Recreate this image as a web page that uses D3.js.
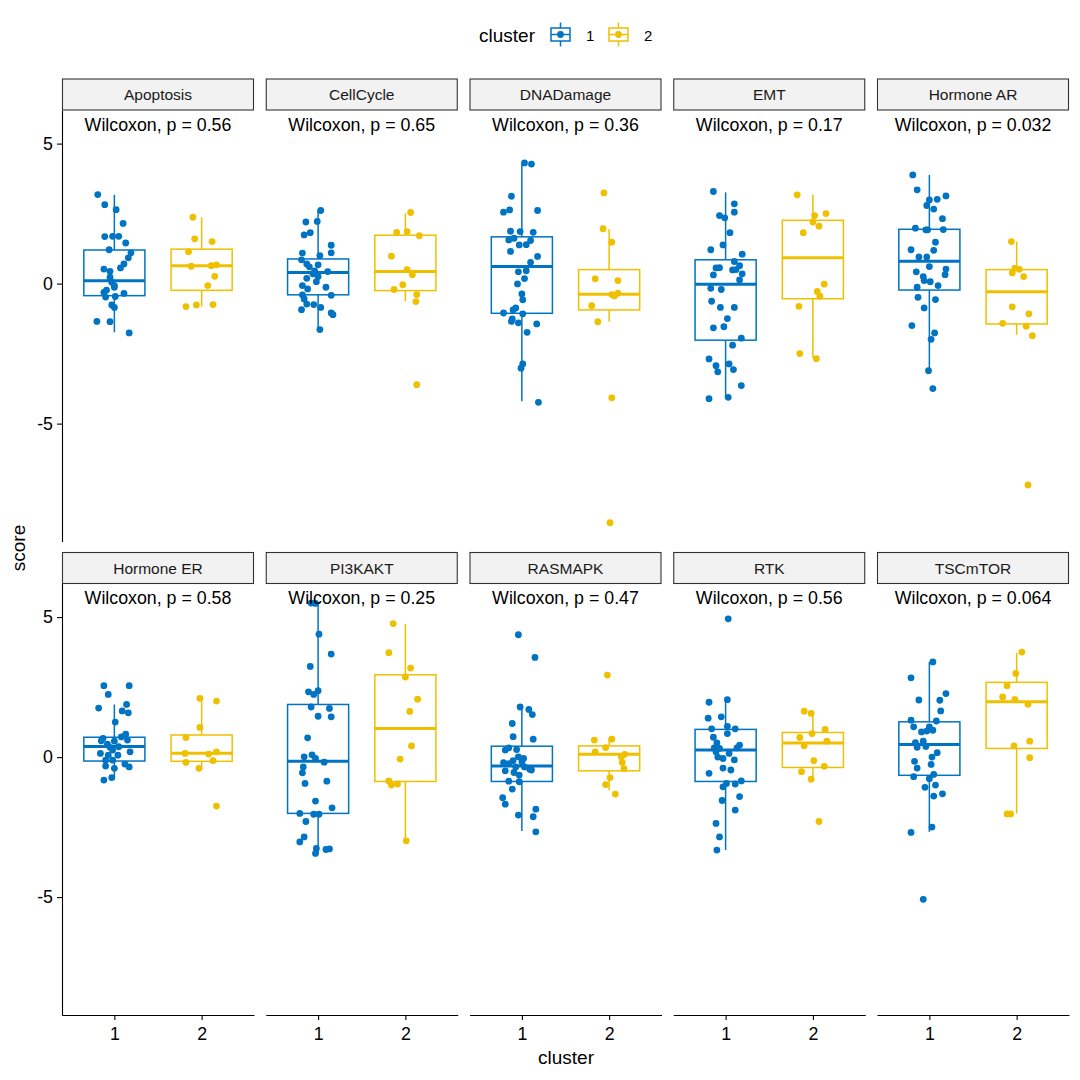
<!DOCTYPE html>
<html><head><meta charset="utf-8">
<script src="https://cdn.jsdelivr.net/npm/d3@7"></script>
<style>body{margin:0;background:#fff}svg{display:block;font-family:"Liberation Sans",Arial,sans-serif}</style>
</head><body><svg id="chart" width="1080" height="1080"></svg>
<script>
// ---------- data ----------
const panels = ["Apoptosis","CellCycle","DNADamage","EMT","Hormone AR","Hormone ER","PI3KAKT","RASMAPK","RTK","TSCmTOR"];
const pValues = ["0.56","0.65","0.36","0.17","0.032","0.58","0.25","0.47","0.56","0.064"];
const clusters = ["1","2"];
const yTicks = [-5,0,5];
// box stats per panel: [lowerWhisker, q1, median, q3, upperWhisker]
const box1 = [
  [-1.74,-0.43,0.10,1.20,3.17],[-1.68,-0.40,0.40,0.88,2.63],[-4.20,-1.06,0.61,1.67,4.27],[-4.06,-2.02,-0.02,0.85,3.26],[-3.11,-0.23,0.80,1.94,3.88],
  [-0.80,-0.14,0.38,0.71,1.88],[-3.44,-2.01,-0.15,1.88,5.52],[-2.64,-0.87,-0.32,0.39,1.80],[-3.32,-0.87,0.25,0.99,2.10],[-2.67,-0.65,0.45,1.26,3.40]];
const box2 = [
  [-0.82,-0.24,0.64,1.23,2.37],[-0.63,-0.25,0.43,1.73,2.51],[-1.35,-0.94,-0.38,0.50,1.94],[-2.65,-0.54,0.92,2.26,3.17],[-1.83,-1.44,-0.29,0.50,1.50],
  [-0.40,-0.15,0.14,0.79,2.10],[-2.99,-0.87,1.02,2.94,4.75],[-1.18,-0.49,0.10,0.40,0.67],[-0.79,-0.37,0.50,0.88,1.58],[-2.01,0.31,1.98,2.67,3.73]];
// points: [jitter offset (category units), score]
const apoptosis1 = [[-0.19,3.18],[-0.11,2.82],[0.02,2.64],[0.10,2.15],[-0.11,1.68],[-0.02,1.69],[0.05,1.69],[0.13,1.45],[-0.06,1.21],[0.19,1.10],[0.16,0.92],[0.11,0.70],[0.07,0.56],[-0.12,0.52],[-0.05,0.44],[-0.05,0.23],[-0.03,0.05],[0,-0.07],[-0.09,-0.23],[0,-0.13],[-0.12,-0.31],[0.11,-0.35],[0.01,-0.46],[-0.10,-0.48],[-0.03,-0.76],[0,-0.85],[-0.20,-1.35],[-0.05,-1.36],[0.17,-1.76]];
const apoptosis2 = [[-0.10,2.37],[-0.08,1.60],[0.12,1.50],[-0.15,1.14],[-0.12,0.62],[0.11,0.64],[0.17,0.67],[0.15,0.26],[0.07,-0.07],[-0.18,-0.82],[-0.06,-0.76],[0.13,-0.75]];
const cellcycle1 = [[0.03,2.61],[-0.14,2.20],[-0.01,2.22],[-0.16,1.74],[-0.09,1.82],[0.15,1.37],[0.15,1.10],[-0.18,1.09],[0.02,1.00],[-0.19,0.85],[-0.13,0.70],[-0.10,0.60],[0,0.67],[-0.04,0.45],[0.11,0.43],[-0.06,0.35],[0,0.25],[-0.13,0.19],[-0.02,0.07],[-0.18,-0.07],[-0.12,-0.19],[0.09,-0.13],[-0.18,-0.40],[0.15,-0.42],[-0.16,-0.55],[-0.13,-0.73],[-0.05,-0.75],[0.03,-0.85],[-0.19,-0.93],[0.15,-1.05],[0.17,-1.11],[0.02,-1.64]];
const cellcycle2 = [[0.06,2.54],[-0.10,1.83],[0.02,1.86],[0.16,1.71],[-0.16,0.98],[0.02,0.50],[0.08,0.32],[-0.03,-0.04],[-0.13,-0.21],[0.13,-0.39],[0.12,-0.64],[0.13,-3.61]];
const dnadamage1 = [[0.03,4.31],[0.11,4.27],[-0.12,3.12],[-0.21,2.55],[-0.14,2.63],[0.18,2.61],[-0.13,1.87],[-0.02,1.86],[0.13,1.83],[-0.15,1.56],[-0.09,1.62],[-0.03,1.38],[0.05,1.39],[0.10,1.54],[-0.13,1.15],[0.18,0.97],[0.10,0.76],[0.05,0.46],[-0.04,0.42],[0.03,0.18],[-0.05,-0.01],[0,-0.37],[0.01,-0.58],[-0.07,-0.87],[-0.10,-0.94],[-0.21,-1.05],[0.01,-1.08],[-0.11,-1.26],[-0.12,-1.35],[-0.04,-1.40],[0.17,-1.44],[0.06,-1.74],[0.01,-2.87],[-0.01,-3.02],[0.19,-4.24]];
const dnadamage2 = [[-0.06,3.24],[-0.07,1.96],[0.03,1.48],[-0.16,0.17],[0.10,0.11],[0.10,-0.34],[0.06,-0.44],[0.03,-0.39],[-0.20,-0.79],[-0.13,-1.36],[0.03,-4.08],[0.01,-8.54]];
const emt1 = [[-0.14,3.29],[0.10,2.85],[0.10,2.55],[-0.07,2.43],[-0.01,2.35],[0.05,1.82],[-0.03,1.38],[-0.17,1.21],[0.19,1.05],[0.10,0.79],[0.16,0.64],[-0.11,0.56],[-0.07,0.57],[0.08,0.49],[0.12,0.50],[0.19,0.35],[-0.14,0.31],[0.16,0.13],[-0.17,-0.17],[-0.05,-0.21],[-0.16,-0.63],[-0.06,-0.85],[0.10,-0.85],[0.02,-1.25],[-0.14,-1.58],[-0.02,-1.54],[0.18,-1.95],[0.08,-2.20],[-0.19,-2.69],[-0.11,-2.93],[0.04,-2.87],[-0.09,-3.15],[0.09,-3.07],[0.18,-3.64],[-0.19,-4.11],[0.03,-4.06]];
const emt2 = [[-0.18,3.17],[0.15,2.50],[0.02,2.43],[0,2.20],[0.07,2.05],[-0.11,1.82],[0.13,-0.02],[0.05,-0.28],[0.08,-0.45],[-0.16,-0.81],[-0.15,-2.50],[0.04,-2.68]];
const hormoneAR1 = [[-0.19,3.88],[-0.14,3.35],[0.19,3.13],[0.09,3.01],[0,2.99],[-0.03,2.79],[0.05,2.66],[0.15,2.32],[-0.16,1.98],[-0.04,1.92],[-0.02,1.92],[0.16,1.93],[0.07,1.48],[-0.21,1.21],[0.05,1.19],[-0.12,0.95],[-0.03,0.95],[0,0.61],[0.19,0.52],[-0.15,0.42],[0.18,0.32],[-0.07,0.25],[-0.06,0.11],[0.01,0.07],[0.10,-0.07],[-0.14,-0.13],[-0.13,-0.49],[0.07,-0.57],[-0.06,-0.87],[-0.20,-1.50],[0.06,-1.76],[0.02,-1.99],[-0.01,-3.11],[0.04,-3.75]];
const hormoneAR2 = [[-0.06,1.50],[-0.02,0.55],[0.03,0.51],[-0.05,0.38],[0.08,0.25],[-0.05,-0.83],[0.14,-1.08],[-0.16,-1.42],[0.11,-1.52],[0.18,-1.86],[0.13,-7.19]];
const hormoneER1 = [[-0.12,2.55],[0.17,2.55],[-0.07,2.24],[-0.18,1.75],[0.14,1.88],[0.09,1.65],[0.16,1.58],[0.01,1.25],[-0.13,0.67],[0.13,0.82],[0.15,0.61],[0,0.57],[-0.08,0.46],[0.05,0.37],[-0.02,0.25],[-0.16,0.13],[0.18,0.19],[-0.07,0.07],[0.04,0.07],[-0.10,-0.11],[-0.02,-0.11],[0.12,-0.25],[0.17,-0.35],[-0.10,-0.32],[0,-0.40],[-0.03,-0.73],[-0.12,-0.82],[-0.05,0.35],[-0.15,0.58],[0.08,0.72]];
const hormoneER2 = [[-0.02,2.10],[0.17,2.00],[-0.02,1.06],[-0.18,0.70],[-0.19,0.13],[0.08,0.11],[0.17,0.19],[-0.18,-0.19],[-0.03,-0.40],[0.13,-0.13],[0.17,-1.75]];
const pi3kakt1 = [[-0.08,5.50],[-0.03,5.49],[0.01,4.39],[0.15,3.68],[-0.09,3.24],[-0.11,2.33],[-0.05,2.24],[0,2.37],[-0.08,1.79],[0.13,1.74],[0,1.46],[0.15,1.44],[-0.12,0.69],[-0.16,0.01],[-0.07,0.08],[-0.03,-0.05],[0.07,-0.18],[-0.17,-0.35],[-0.18,-0.56],[-0.15,-0.94],[0.10,-0.86],[-0.03,-1.57],[0.16,-1.81],[-0.21,-2.01],[-0.05,-2.04],[0.01,-2.04],[-0.14,-2.30],[-0.16,-2.85],[-0.21,-3.03],[-0.02,-3.26],[-0.03,-3.44],[0.09,-3.30],[0.13,-3.28]];
const pi3kakt2 = [[-0.14,4.77],[-0.19,3.73],[0.06,3.18],[0,2.86],[0.14,2.07],[0.05,1.63],[0.07,0.40],[-0.06,-0.07],[-0.19,-0.85],[-0.16,-1.00],[-0.09,-0.96],[0.01,-2.99]];
const rasmapk1 = [[-0.04,4.37],[0.15,3.56],[-0.02,1.79],[0.08,1.70],[0.12,1.52],[-0.11,1.20],[-0.10,0.73],[0.13,0.64],[-0.19,0.25],[-0.15,0.33],[-0.06,0.27],[-0.04,0.01],[-0.21,-0.20],[-0.10,-0.13],[0,-0.17],[0.03,-0.35],[-0.19,-0.49],[-0.09,-0.55],[0.11,-0.46],[-0.03,-0.64],[-0.15,-0.86],[-0.03,-0.88],[-0.11,-1.14],[-0.22,-1.45],[-0.19,-1.68],[0.16,-1.86],[-0.04,-2.07],[0.13,-2.13],[0.16,-2.67],[-0.15,-0.23],[-0.07,-0.35],[0.02,-0.05],[0.09,-0.43]];
const rasmapk2 = [[-0.02,2.93],[-0.17,0.61],[0.03,0.64],[-0.04,0.34],[-0.16,0.19],[0.18,0.10],[0.14,0.01],[0.15,-0.19],[0.17,-0.41],[0.01,-0.73],[-0.04,-0.98],[0.07,-1.32]];
const rtk1 = [[0.03,4.94],[-0.19,1.96],[0.02,2.05],[-0.20,1.39],[-0.05,1.44],[0.02,1.10],[0.11,1.01],[-0.16,1.01],[0.02,0.84],[-0.14,0.71],[-0.10,0.51],[0.16,0.43],[0.13,0.33],[-0.13,0.33],[-0.11,0.19],[-0.03,-0.05],[0.10,-0.10],[-0.03,-0.39],[0.06,-0.46],[-0.19,-0.58],[0.18,-0.85],[0.01,-0.94],[0.11,-0.96],[-0.03,-1.06],[0.16,-1.41],[-0.04,-1.55],[0.11,-1.89],[-0.11,-2.37],[-0.07,-2.85],[-0.10,-3.32],[-0.07,0.31],[0.04,0.13],[-0.09,0.0]];
const rtk2 = [[-0.10,1.64],[-0.02,1.56],[0.14,0.99],[-0.15,0.70],[-0.01,0.84],[0.16,0.57],[-0.10,0.41],[0.01,-0.13],[0.13,-0.33],[-0.13,-0.52],[-0.02,-0.79],[0.07,-2.30]];
const tscmtor1 = [[0.04,3.40],[-0.21,2.83],[0.19,2.27],[-0.12,2.04],[0.12,2.03],[0.13,1.65],[-0.21,1.32],[0.08,1.29],[-0.18,1.08],[0,1.08],[0.04,0.96],[-0.09,0.90],[-0.03,0.93],[-0.16,0.52],[-0.07,0.57],[-0.14,0.35],[-0.04,0.38],[0.09,0.16],[0.03,0.00],[-0.17,-0.15],[0.02,-0.26],[-0.14,-0.39],[-0.18,-0.70],[0.05,-0.62],[0,-0.77],[0.07,-1.00],[-0.05,-1.08],[0.15,-1.31],[0.05,-1.39],[0.03,-2.50],[-0.21,-2.69],[-0.07,-5.08]];
const tscmtor2 = [[0.06,3.75],[-0.01,2.99],[-0.11,2.55],[-0.16,2.15],[-0.02,2.06],[0.13,1.89],[0.15,0.57],[-0.03,0.40],[0.15,-0.02],[-0.11,-2.03],[-0.07,-2.03]];
const points1 = [apoptosis1,cellcycle1,dnadamage1,emt1,hormoneAR1,hormoneER1,pi3kakt1,rasmapk1,rtk1,tscmtor1];
const points2 = [apoptosis2,cellcycle2,dnadamage2,emt2,hormoneAR2,hormoneER2,pi3kakt2,rasmapk2,rtk2,tscmtor2];
const colors = ["#0073C2","#EFC000"];

// ---------- layout ----------
const svg = d3.select("#chart");
const FONT = '"Liberation Sans", Arial, sans-serif';
const panelW = 192, gapX = 11.75, left0 = 62;
const rowTop = [110, 583.5], panelH = 431.5, stripH = 31;
const yDomain = [-9.21, 6.2];

function xScale(col){ const x0 = left0 + col*(panelW+gapX); return d3.scaleLinear().domain([0.4,2.6]).range([x0, x0+panelW]); }
function yScale(row){ return d3.scaleLinear().domain(yDomain).range([rowTop[row]+panelH, rowTop[row]]); }

panels.forEach((name,i)=>{
  const row = Math.floor(i/5), col = i%5;
  const x = xScale(col), y = yScale(row);
  const g = svg.append("g");
  const x0 = x.range()[0], x1 = x.range()[1];
  // strip
  g.append("rect").attr("x",x0+0.5).attr("y",rowTop[row]-stripH).attr("width",panelW-1).attr("height",stripH)
    .attr("fill","#F2F2F2").attr("stroke","#333").attr("stroke-width",1.1);
  g.append("text").attr("x",(x0+x1)/2).attr("y",rowTop[row]-stripH/2).attr("dy","0.36em")
    .attr("text-anchor","middle").attr("font-size",15.5).attr("fill","#1A1A1A").text(name);
  // boxes
  [box1[i],box2[i]].forEach((b,k)=>{
    const cx = x(k+1), hw = x(1.35)-x(1), c = colors[k];
    g.append("line").attr("x1",cx).attr("x2",cx).attr("y1",y(b[0])).attr("y2",y(b[1])).attr("stroke",c).attr("stroke-width",1.5);
    g.append("line").attr("x1",cx).attr("x2",cx).attr("y1",y(b[3])).attr("y2",y(b[4])).attr("stroke",c).attr("stroke-width",1.5);
    g.append("rect").attr("x",cx-hw).attr("y",y(b[3])).attr("width",2*hw).attr("height",y(b[1])-y(b[3]))
      .attr("fill","#fff").attr("stroke",c).attr("stroke-width",1.5);
    g.append("line").attr("x1",cx-hw).attr("x2",cx+hw).attr("y1",y(b[2])).attr("y2",y(b[2])).attr("stroke",c).attr("stroke-width",3);
  });
  // points
  [points1[i],points2[i]].forEach((pts,k)=>{
    g.selectAll(null).data(pts).enter().append("circle")
      .attr("cx",d=>x(k+1+d[0])).attr("cy",d=>y(d[1])).attr("r",3.4).attr("fill",colors[k]);
  });
  // p-value label
  g.append("text").attr("x",x(1.5)).attr("y",y(5.46)).attr("text-anchor","middle")
    .attr("font-size",17.8).attr("fill","#000").text("Wilcoxon, p = " + pValues[i]);
  // axes
  if(col===0){
    const ax = g.append("g").attr("transform",`translate(${x0},0)`)
      .call(d3.axisLeft(y).tickValues(yTicks).tickFormat(d=>String(d)).tickSize(5).tickSizeOuter(0));
    ax.selectAll("text").attr("font-size",17.8).attr("font-family",FONT).attr("fill","#000").attr("dx","-1");
    ax.selectAll("line,path").attr("stroke","#000").attr("stroke-width",1.1);
  }
  if(row===1){
    const ax = g.append("g").attr("transform",`translate(0,${rowTop[row]+panelH})`)
      .call(d3.axisBottom(x).tickValues([1,2]).tickFormat((d,j)=>clusters[j]).tickSize(5).tickSizeOuter(0));
    ax.selectAll("text").attr("font-size",17.8).attr("font-family",FONT).attr("fill","#000").attr("dy","0.95em");
    ax.selectAll("line,path").attr("stroke","#000").attr("stroke-width",1.1);
  }
});

// axis titles
svg.append("text").attr("x",566).attr("y",1064).attr("text-anchor","middle").attr("font-size",19).text("cluster");
svg.append("text").attr("transform","translate(25,548) rotate(-90)").attr("text-anchor","middle").attr("font-size",19).text("score");

// legend
const lg = svg.append("g");
lg.append("text").attr("x",479).attr("y",42).attr("font-size",19).text("cluster");
const keyX = [551, 609], labX = [586, 644];
clusters.forEach((c,k)=>{
  const kx = keyX[k], c0 = colors[k], mid = kx+9.5;
  lg.append("line").attr("x1",mid).attr("x2",mid).attr("y1",22.5).attr("y2",46.5).attr("stroke",c0).attr("stroke-width",1.5);
  lg.append("rect").attr("x",kx).attr("y",28).attr("width",19).attr("height",13).attr("fill","#fff").attr("stroke",c0).attr("stroke-width",1.5);
  lg.append("line").attr("x1",kx).attr("x2",kx+19).attr("y1",34.5).attr("y2",34.5).attr("stroke",c0).attr("stroke-width",1.5);
  lg.append("circle").attr("cx",mid).attr("cy",34.5).attr("r",3.4).attr("fill",c0);
  lg.append("text").attr("x",labX[k]).attr("y",40.5).attr("font-size",15).text(c);
});
svg.selectAll("text").attr("font-family",FONT);
</script></body></html>
